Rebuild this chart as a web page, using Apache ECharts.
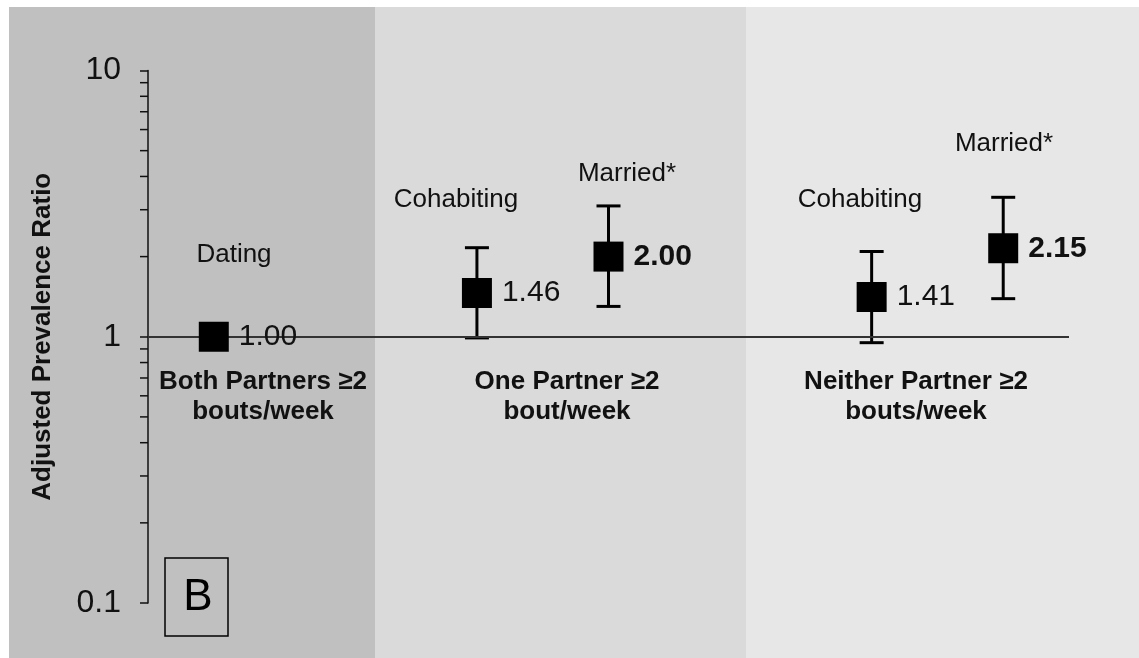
<!DOCTYPE html>
<html>
<head>
<meta charset="utf-8">
<script src="https://cdn.jsdelivr.net/npm/echarts@6/dist/echarts.min.js"></script>
<style>
  html, body { margin: 0; padding: 0; background: #fff; }
  #chart { width: 1139px; height: 658px; }
</style>
</head>
<body>
<div id="chart"></div>
<script>
// Relationship types and their adjusted prevalence ratios (log scale)
const categories = ['Dating', 'Cohabiting', 'Married*', 'Cohabiting', 'Married*'];
const ratios = [1.00, 1.46, 2.00, 1.41, 2.15];
const ciLow = [null, 0.99, 1.30, 0.95, 1.39];
const ciHigh = [null, 2.16, 3.10, 2.09, 3.34];
const significant = [false, false, true, false, true];

// Partner activity groups shown beneath the reference line
const groups = ['Both Partners \u22652\nbouts/week', 'One Partner \u22652\nbout/week', 'Neither Partner \u22652\nbouts/week'];

// Axis ticks
const yTicks = [0.1, 1, 10];
const minorTicks = [0.2, 0.3, 0.4, 0.5, 0.6, 0.7, 0.8, 0.9, 2, 3, 4, 5, 6, 7, 8, 9];

// Layout: slot of each estimate on a 7-slot horizontal axis
const xSlot = [0, 2, 3, 5, 6];
const slotCount = 7;
// Layout: pixel placement of the relationship names and group captions
const nameAt = [[234, 255], [456, 200], [627, 174], [860, 200], [1004, 144]];
const groupAt = [[263, 397], [567, 397], [916, 397]];

const FONT = '"Liberation Sans", Arial, Helvetica, sans-serif';
const INK = '#111';

const chart = echarts.init(document.getElementById('chart'), null, { renderer: 'canvas' });

const scatterData = ratios.map((v, i) => ({
  value: [xSlot[i], v],
  label: {
    fontWeight: significant[i] ? 'bold' : 'normal',
    fontSize: significant[i] ? 30 : 30
  }
}));

const ciData = ratios.map((v, i) => [xSlot[i], ciLow[i], ciHigh[i]]).filter(d => d[1] != null);

const graphics = [
  { type: 'rect', z: -100, shape: { x: 9, y: 7, width: 366, height: 651 }, style: { fill: '#c0c0c0' } },
  { type: 'rect', z: -100, shape: { x: 375, y: 7, width: 371, height: 651 }, style: { fill: '#dadada' } },
  { type: 'rect', z: -100, shape: { x: 746, y: 7, width: 393, height: 651 }, style: { fill: '#e7e7e7' } },
  { type: 'rect', z: 50, shape: { x: 165, y: 558, width: 63, height: 78 }, style: { fill: null, stroke: '#000', lineWidth: 1.5 } },
  { type: 'text', z: 50, x: 198, y: 598, style: { text: 'B', font: '44px ' + FONT, fill: '#000', textAlign: 'center', textVerticalAlign: 'middle' } }
];
categories.forEach((c, i) => {
  graphics.push({ type: 'text', z: 50, x: nameAt[i][0], y: nameAt[i][1],
    style: { text: c, font: '26px ' + FONT, fill: INK, textAlign: 'center', textVerticalAlign: 'middle' } });
});
groups.forEach((g, i) => {
  graphics.push({ type: 'text', z: 50, x: groupAt[i][0], y: groupAt[i][1],
    style: { text: g, font: 'bold 26px ' + FONT, fill: INK, textAlign: 'center', textVerticalAlign: 'middle', lineHeight: 30 } });
});

chart.setOption({
  backgroundColor: '#ffffff',
  animation: false,
  textStyle: { fontFamily: FONT },
  grid: { left: 148, right: 70, top: 70.5, bottom: 55, containLabel: false },
  xAxis: {
    type: 'category',
    data: Array.from({ length: slotCount }, (_, i) => 'slot' + i),
    boundaryGap: true,
    show: false
  },
  yAxis: {
    type: 'log',
    logBase: 10,
    min: 0.1,
    max: 10,
    interval: 1,
    name: 'Adjusted Prevalence Ratio',
    nameLocation: 'middle',
    nameGap: 92,
    nameTextStyle: { fontSize: 26, fontWeight: 'bold', color: INK, fontFamily: FONT },
    axisLine: { show: true, lineStyle: { color: '#111', width: 1.5 } },
    axisTick: { show: true, inside: false, length: 8, lineStyle: { color: '#111', width: 1.5 } },
    axisLabel: {
      margin: 27, fontSize: 32, color: INK, fontFamily: FONT,
      formatter: v => { const t = yTicks.find(k => Math.abs(k - v) / k < 1e-6); return t != null ? String(t) : ''; }
    },
    splitLine: { show: false },
    minorTick: { show: false }
  },
  graphic: graphics,
  series: [
    {
      // minor log ticks (2..9 of each decade), drawn outside the axis line
      type: 'custom',
      silent: true,
      z: 3,
      clip: false,
      data: minorTicks.map(v => [0, v]),
      renderItem: (params, api) => {
        const y = api.coord([0, api.value(1)])[1];
        const x0 = params.coordSys.x;
        return { type: 'line', shape: { x1: x0 - 8, y1: y, x2: x0, y2: y }, style: { stroke: '#111', lineWidth: 1.5 } };
      }
    },
    {
      // 95% confidence intervals
      type: 'custom',
      silent: true,
      z: 4,
      data: ciData,
      renderItem: (params, api) => {
        const lo = api.coord([api.value(0), api.value(1)]);
        const hi = api.coord([api.value(0), api.value(2)]);
        const half = 12;
        const style = { stroke: '#000', lineWidth: 3 };
        return {
          type: 'group',
          children: [
            { type: 'line', shape: { x1: lo[0], y1: lo[1], x2: hi[0], y2: hi[1] }, style },
            { type: 'line', shape: { x1: lo[0] - half, y1: lo[1], x2: lo[0] + half, y2: lo[1] }, style },
            { type: 'line', shape: { x1: hi[0] - half, y1: hi[1], x2: hi[0] + half, y2: hi[1] }, style }
          ]
        };
      }
    },
    {
      type: 'scatter',
      z: 5,
      symbol: 'rect',
      symbolSize: 30,
      itemStyle: { color: '#000', opacity: 1 },
      label: {
        show: true,
        position: 'right',
        distance: 10,
        color: INK,
        fontFamily: FONT,
        formatter: p => p.value[1].toFixed(2)
      },
      emphasis: { disabled: true },
      data: scatterData,
      markLine: {
        silent: true,
        symbol: 'none',
        label: { show: false },
        lineStyle: { color: '#333', width: 2, type: 'solid' },
        data: [{ yAxis: 1 }]
      }
    }
  ]
});
</script>
</body>
</html>
